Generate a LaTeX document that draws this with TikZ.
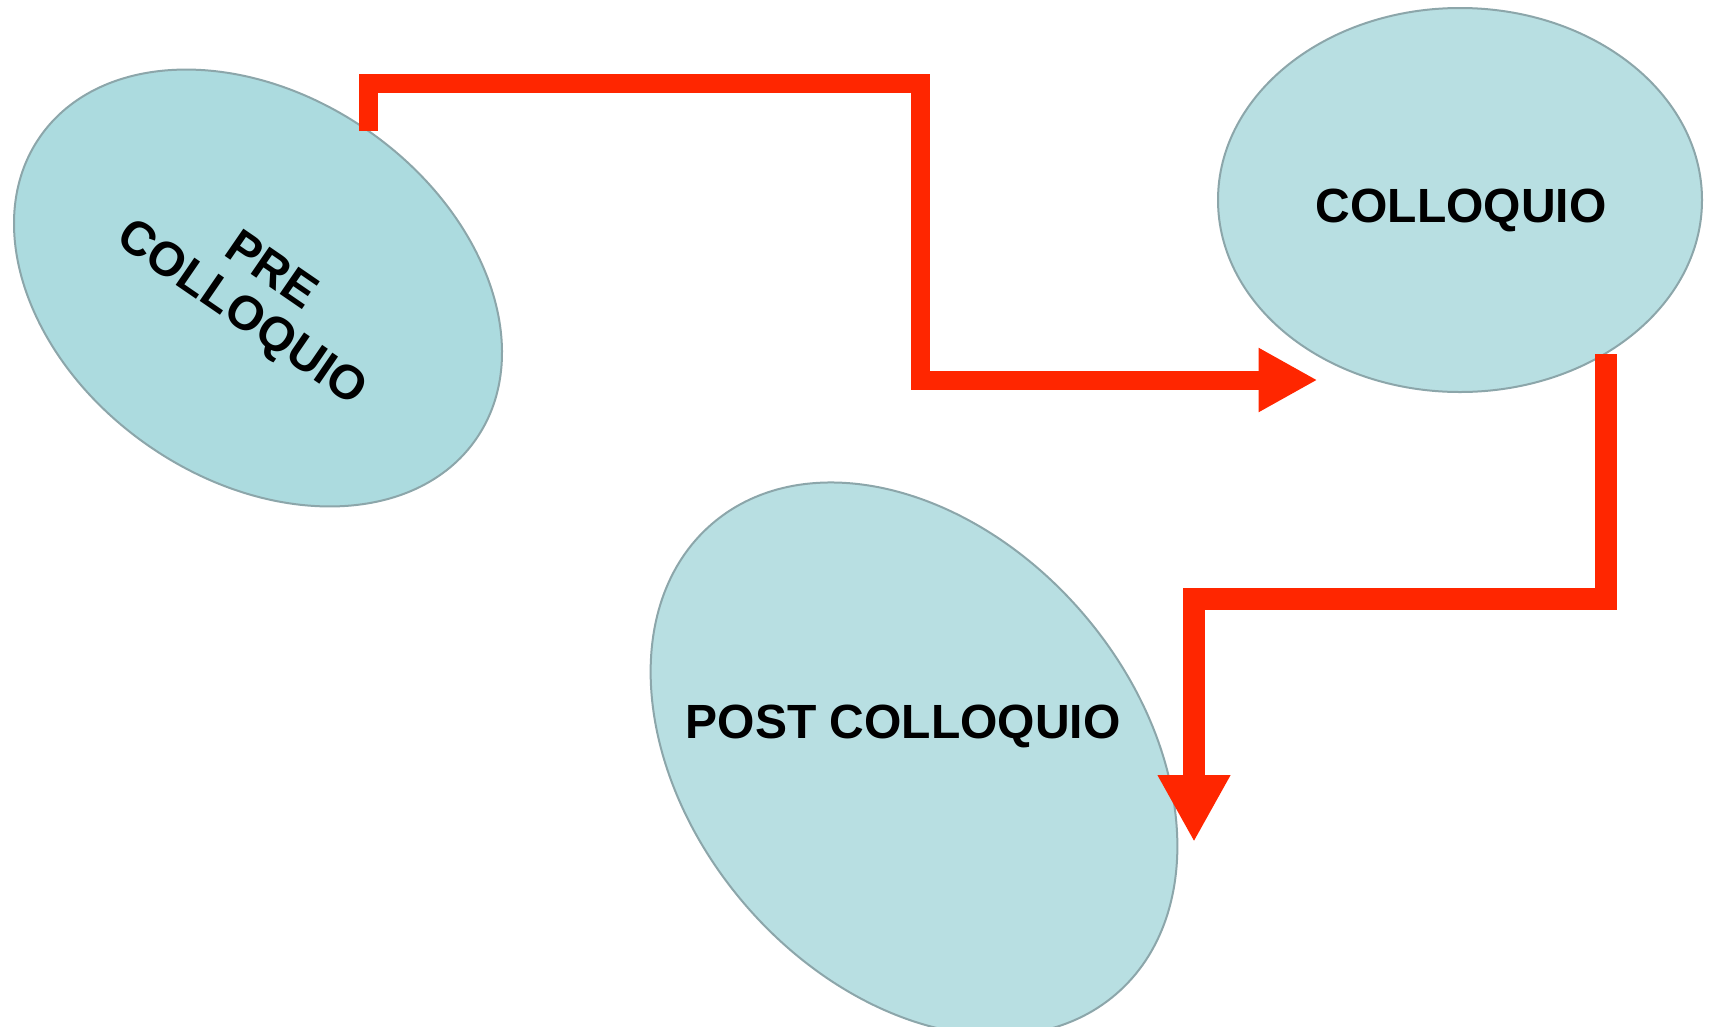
\documentclass[tikz,border=0pt]{standalone}
\usepackage{fontspec}
\setmainfont{Liberation Sans}
\usetikzlibrary{shapes.geometric,arrows.meta}
\definecolor{fillA}{RGB}{172,219,223}
\definecolor{fillB}{RGB}{184,223,226}
\definecolor{edgeC}{RGB}{140,166,170}
\definecolor{arrRed}{RGB}{255,38,0}
\begin{document}
\begin{tikzpicture}[x=1pt,y=-1pt,
  blob/.style={ellipse, draw=edgeC, line width=2pt, inner sep=0pt},
  lbl/.style={font=\fontsize{48}{51}\selectfont\bfseries, inner sep=0pt, text=black},
  conn/.style={draw=arrRed, line join=miter},
]
\useasboundingbox[fill=white] (0,0) rectangle (1710,1026);
\node[blob, fill=fillA, minimum width=530.6pt, minimum height=384pt, rotate=-34.7] (e1) at (258,288) {};
\node[blob, fill=fillB, minimum width=484pt, minimum height=384pt] (e2) at (1460,200) {};
\node[blob, fill=fillB, minimum width=620pt, minimum height=446pt, rotate=-49.4] (e3) at (914,759) {};
\node[lbl, rotate=-34.5, align=center] (t1) at (255,294) {PRE\\COLLOQUIO};
\node[lbl, anchor=base] (t2) at (1461,222) {COLLOQUIO};
\node[lbl, anchor=base] (t3) at (903,738) {POST COLLOQUIO};
\coordinate (s1) at (368,131);
\coordinate (k1) at (920,83);
\coordinate (f1) at (1317.5,380);
\draw[conn, line width=19pt, -{Triangle[length=59pt,width=60pt]}] (s1) |- (k1) |- (f1);
\coordinate (s2) at (1606,354);
\coordinate (k2) at (1194,599);
\coordinate (f2) at (1194,842);
\draw[conn, line width=22pt, -{Triangle[length=67pt,width=68pt]}] (s2) |- (k2) -- (f2);
\end{tikzpicture}
\end{document}
